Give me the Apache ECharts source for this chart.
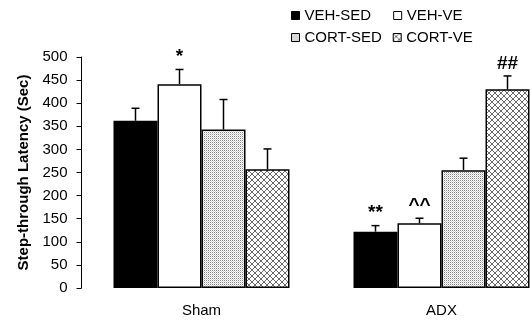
<!DOCTYPE html>
<html><head><meta charset="utf-8">
<script src="https://cdn.jsdelivr.net/npm/echarts@6/dist/echarts.min.js"></script>
<style>html,body{margin:0;padding:0;background:#fff}#c{width:532px;height:322px}</style>
</head><body><div id="c"></div>
<script>
const categories = ['Sham', 'ADX'];
const seriesNames = ['VEH-SED', 'VEH-VE', 'CORT-SED', 'CORT-VE'];
const vehSed = [362, 122];
const vehVe = [441, 140];
const cortSed = [343, 255];
const cortVe = [257, 430];
const vehSedErr = [27, 13];
const vehVeErr = [32, 11];
const cortSedErr = [65, 26];
const cortVeErr = [44, 29];
const vehSedMark = ['', '**'];
const vehVeMark = ['*', '^^'];
const cortSedMark = ['', ''];
const cortVeMark = ['', '##'];
const yMin = 0, yMax = 500, yInterval = 50;

function dotPattern() {
  const c = document.createElement('canvas'); c.width = 2; c.height = 2;
  const g = c.getContext('2d');
  g.fillStyle = '#ffffff'; g.fillRect(0, 0, 2, 2);
  g.fillStyle = '#8a8a8a'; g.fillRect(0, 0, 1, 1);
  g.fillStyle = '#d4d4d4'; g.fillRect(1, 1, 1, 1);
  return c;
}
function hatchPattern() {
  const n = 6;
  const c = document.createElement('canvas'); c.width = n; c.height = n;
  const g = c.getContext('2d');
  g.fillStyle = '#ffffff'; g.fillRect(0, 0, n, n);
  g.fillStyle = '#6a6a6a';
  for (let i = 0; i < n; i++) { g.fillRect(i, i, 1, 1); g.fillRect(n - 1 - i, i, 1, 1); }
  return c;
}

const values = [vehSed, vehVe, cortSed, cortVe];
const errs = [vehSedErr, vehVeErr, cortSedErr, cortVeErr];
const marks = [vehSedMark, vehVeMark, cortSedMark, cortVeMark];
const fills = ['#000000', '#ffffff', {image: dotPattern(), repeat: 'repeat'}, {image: hatchPattern(), repeat: 'repeat'}];
const BW = 44;
const FONT = 'Liberation Sans, Arial, sans-serif';

const series = [];
seriesNames.forEach((name, si) => {
  series.push({
    name: name, type: 'bar', data: values[si], barWidth: BW, barGap: '0%',
    itemStyle: {color: fills[si], borderColor: '#000', borderWidth: 1.5},
    emphasis: {disabled: true}, z: 2
  });
});
seriesNames.forEach((name, si) => {
  series.push({
    type: 'custom', z: 5, clip: false, silent: true,
    data: categories.map((c, i) => [i, values[si][i], errs[si][i]]),
    renderItem: function (params, api) {
      const ci = api.value(0), v = api.value(1), e = api.value(2);
      const p0 = api.coord([ci, v]), p1 = api.coord([ci, v + e]);
      const x = p0[0] + (si - 1.5) * BW;
      const m = marks[si][params.dataIndex];
      const ch = [
        {type: 'line', shape: {x1: x, y1: p0[1], x2: x, y2: p1[1]}, style: {stroke: '#000', lineWidth: 1.5}},
        {type: 'line', shape: {x1: x - 4, y1: p1[1], x2: x + 4, y2: p1[1]}, style: {stroke: '#000', lineWidth: 1.5}}
      ];
      if (m) ch.push({type: 'text', style: {text: m, x: x, y: p1[1] - 3, align: 'center', verticalAlign: 'bottom', font: 'bold 19px ' + FONT, fill: '#000'}});
      return {type: 'group', children: ch};
    }
  });
});

const legendCommon = {
  icon: 'rect', itemWidth: 8, itemHeight: 8, padding: 0, left: 291,
  selectedMode: false,
  textStyle: {fontSize: 15, fontFamily: FONT, color: '#000'},
  itemStyle: {borderColor: '#000', borderWidth: 1}
};

const chart = echarts.init(document.getElementById('c'), null, {renderer: 'canvas'});
chart.setOption({
  animation: false,
  backgroundColor: '#fff',
  legend: [
    Object.assign({}, legendCommon, {top: 8, itemGap: 22, data: [seriesNames[0], seriesNames[1]]}),
    Object.assign({}, legendCommon, {top: 30, itemGap: 11, data: [seriesNames[2], seriesNames[3]]})
  ],
  grid: {left: 81.5, top: 57, width: 480, height: 231, containLabel: false, outerBoundsMode: 'none'},
  xAxis: {
    type: 'category', data: categories,
    axisLine: {show: false}, axisTick: {show: false},
    axisLabel: {fontSize: 15, fontFamily: FONT, color: '#000', margin: 15}
  },
  yAxis: {
    type: 'value', min: yMin, max: yMax, interval: yInterval,
    name: 'Step-through Latency (Sec)', nameLocation: 'middle', nameGap: 49,
    nameTextStyle: {fontSize: 15, fontWeight: 'bold', fontFamily: FONT, color: '#000'},
    axisLine: {show: true, lineStyle: {color: '#000', width: 1}},
    axisTick: {show: true, length: 5, lineStyle: {color: '#000'}},
    splitLine: {show: false},
    axisLabel: {fontSize: 15, fontFamily: FONT, color: '#000', margin: 14}
  },
  series: series
});
</script></body></html>
